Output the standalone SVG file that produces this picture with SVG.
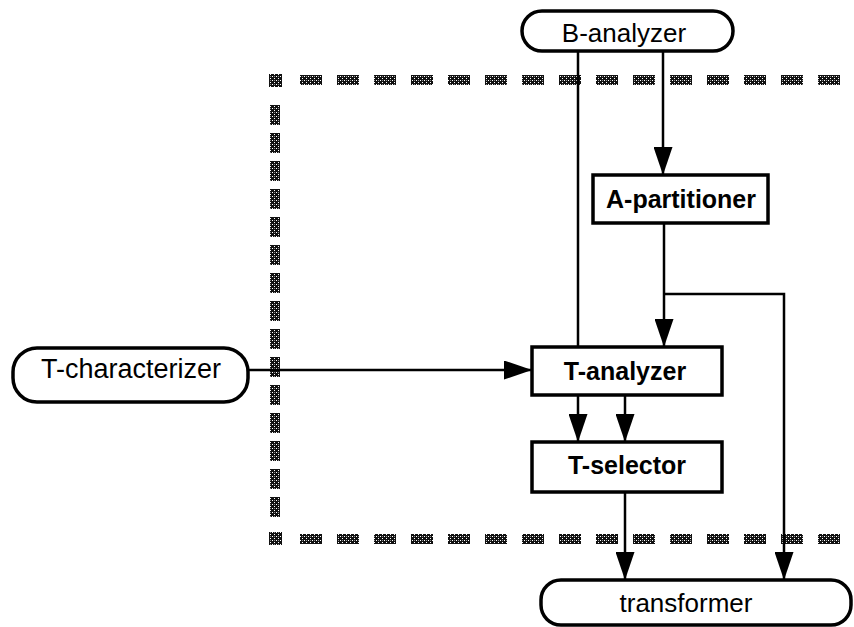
<svg xmlns="http://www.w3.org/2000/svg" width="854" height="627" viewBox="0 0 854 627">
<defs>
<pattern id="dither" width="4" height="4" patternUnits="userSpaceOnUse">
<rect width="4" height="4" fill="#111"/>
<rect x="0" y="0" width="1" height="1" fill="#fff"/>
<rect x="2" y="2" width="1" height="1" fill="#fff"/>
<rect x="2" y="0" width="1" height="1" fill="#888"/>
</pattern>
<marker id="arr" markerWidth="28" markerHeight="19" refX="28" refY="9.5" orient="auto" markerUnits="userSpaceOnUse" viewBox="0 0 28 19">
<path d="M0,0 L28,9.5 L0,19 Z" fill="#000"/>
</marker>
<style>
.box{fill:#fff;stroke:#000;stroke-width:3.5}
.lbl{font-family:"Liberation Sans",Arial,sans-serif;font-size:25px;fill:#000;text-anchor:middle}
.b{font-weight:bold}
.c{fill:none;stroke:#000;stroke-width:2.5}
.dh{fill:none;stroke:url(#dither);stroke-width:10;stroke-dasharray:22 15}
.vd{fill:url(#dither)}
</style>
</defs>
<rect width="854" height="627" fill="#fff"/>
<g id="boundary">
<rect x="269" y="74" width="13" height="13" fill="url(#dither)"/>
<rect x="269" y="532" width="13" height="13" fill="url(#dither)"/>
<path class="dh" d="M300,80 H854"/>
<path class="dh" d="M300,539 H854"/>
<rect class="vd" x="270" y="105" width="10" height="20"/>
<rect class="vd" x="270" y="133" width="10" height="20"/>
<rect class="vd" x="270" y="161" width="10" height="20"/>
<rect class="vd" x="270" y="189" width="10" height="20"/>
<rect class="vd" x="270" y="217" width="10" height="20"/>
<rect class="vd" x="270" y="245" width="10" height="20"/>
<rect class="vd" x="270" y="273" width="10" height="20"/>
<rect class="vd" x="270" y="301" width="10" height="20"/>
<rect class="vd" x="270" y="329" width="10" height="20"/>
<rect class="vd" x="270" y="357" width="10" height="20"/>
<rect class="vd" x="270" y="385" width="10" height="20"/>
<rect class="vd" x="270" y="413" width="10" height="20"/>
<rect class="vd" x="270" y="441" width="10" height="20"/>
<rect class="vd" x="270" y="469" width="10" height="20"/>
<rect class="vd" x="270" y="497" width="10" height="20"/>
</g>
<g id="connectors">
<path class="c" d="M578,51 V347"/>
<path class="c" d="M663,51 V175" marker-end="url(#arr)"/>
<path class="c" d="M664,223 V347" marker-end="url(#arr)"/>
<path class="c" d="M664,294 H784 V580" marker-end="url(#arr)"/>
<path class="c" d="M248,370 H532" marker-end="url(#arr)"/>
<path class="c" d="M578,395 V442" marker-end="url(#arr)"/>
<path class="c" d="M625,395 V442" marker-end="url(#arr)"/>
<path class="c" d="M625,492 V580" marker-end="url(#arr)"/>
</g>
<g id="b-analyzer">
<rect class="box" x="522" y="11" width="211" height="40" rx="20"/>
<text class="lbl" x="624" y="42" style="font-size:26px">B-analyzer</text>
</g>
<g id="a-partitioner">
<rect class="box" x="593" y="175" width="175" height="48"/>
<text class="lbl b" x="681" y="208">A-partitioner</text>
</g>
<g id="t-characterizer">
<rect class="box" x="13" y="348" width="235" height="54" rx="24"/>
<text class="lbl" x="131" y="378" style="font-size:27px">T-characterizer</text>
</g>
<g id="t-analyzer">
<rect class="box" x="532" y="347" width="190" height="48"/>
<text class="lbl b" x="625" y="380">T-analyzer</text>
</g>
<g id="t-selector">
<rect class="box" x="532" y="442" width="190" height="50"/>
<text class="lbl b" x="627" y="474">T-selector</text>
</g>
<g id="transformer">
<rect class="box" x="541" y="580" width="310" height="45" rx="20"/>
<text class="lbl" x="686" y="612" style="font-size:26px">transformer</text>
</g>
</svg>
